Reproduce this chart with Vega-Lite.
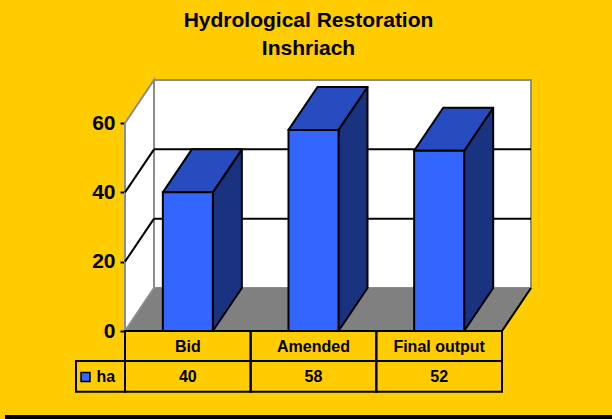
{
  "$schema": "https://vega.github.io/schema/vega-lite/v6.json",
  "width": 377,
  "height": 208,
  "autosize": "none",
  "padding": {"left": 125, "top": 123, "right": 110, "bottom": 88},
  "background": "#FFCC00",
  "config": {
    "view": {"stroke": null},
    "font": "Liberation Sans",
    "axisY": {"grid": false, "domainColor": "black", "domainWidth": 2, "tickColor": "black", "tickWidth": 2, "tickSize": 5, "labelFont": "Liberation Sans", "labelFontSize": 21, "labelFontWeight": "bold", "labelColor": "black", "labelPadding": 5, "labelFlush": false, "zindex": 1}
  },
  "title": {"text": ["Hydrological Restoration", "Inshriach"], "font": "Liberation Sans", "fontSize": 21, "fontWeight": "bold", "color": "black", "anchor": "middle", "frame": "group", "dx": -5, "offset": 17, "lineHeight": 27.6},
  "data": {"values": [
    {"category": "Bid", "ha": 40},
    {"category": "Amended", "ha": 58},
    {"category": "Final output", "ha": 52}
  ]},
  "layer": [
    {
      "transform": [{"aggregate": [{"op": "count", "as": "n"}]}],
      "mark": {"type": "rect", "fill": "white", "stroke": "#8c8c8c", "strokeWidth": 2},
      "encoding": {
        "x": {"datum": 0.2308, "type": "quantitative", "scale": {"domain": [0, 3], "nice": false, "zero": false}, "axis": null},
        "x2": {"datum": 3.2308},
        "y": {"datum": 12.4, "type": "quantitative", "scale": {"domain": [0, 60], "nice": false, "zero": false}, "axis": {"title": null, "values": [0, 20, 40, 60]}},
        "y2": {"datum": 72.4}
      }
    },
    {
      "transform": [
        {"aggregate": [{"op": "count", "as": "n"}]},
        {"calculate": "[0, 1]", "as": "depth"},
        {"flatten": ["depth"]},
        {"calculate": "datum.depth * 0.2308", "as": "fx0"},
        {"calculate": "3 + datum.depth * 0.2308", "as": "fx1"},
        {"calculate": "datum.depth * 12.4", "as": "fy"}
      ],
      "mark": {"type": "area", "orient": "horizontal", "fill": "#808080", "strokeWidth": 0},
      "encoding": {
        "y": {"field": "fy", "type": "quantitative", "scale": {"domain": [0, 60], "nice": false, "zero": false}, "axis": {"title": null, "values": [0, 20, 40, 60]}},
        "x": {"field": "fx0", "type": "quantitative", "scale": {"domain": [0, 3], "nice": false, "zero": false}, "axis": null},
        "x2": {"field": "fx1"}
      }
    },
    {
      "transform": [
        {"aggregate": [{"op": "count", "as": "n"}]},
        {"calculate": "[0, 1]", "as": "depth"},
        {"flatten": ["depth"]},
        {"calculate": "datum.depth * 0.2308", "as": "wx"},
        {"calculate": "datum.depth * 12.4", "as": "wy0"},
        {"calculate": "60 + datum.depth * 12.4", "as": "wy1"}
      ],
      "mark": {"type": "area", "orient": "vertical", "fill": "white", "stroke": "#8c8c8c", "strokeWidth": 2},
      "encoding": {
        "x": {"field": "wx", "type": "quantitative", "scale": {"domain": [0, 3], "nice": false, "zero": false}, "axis": null},
        "y": {"field": "wy0", "type": "quantitative", "scale": {"domain": [0, 60], "nice": false, "zero": false}, "axis": {"title": null, "values": [0, 20, 40, 60]}},
        "y2": {"field": "wy1"}
      }
    },
    {
      "data": {"values": [{"v": 20}, {"v": 40}]},
      "transform": [{"calculate": "datum.v + 12.4", "as": "vb"}],
      "layer": [
        {
          "mark": {"type": "rule", "stroke": "black", "strokeWidth": 2},
          "encoding": {
            "x": {"datum": 0.2308, "type": "quantitative", "scale": {"domain": [0, 3], "nice": false, "zero": false}, "axis": null},
            "x2": {"datum": 3.2308},
            "y": {"field": "vb", "type": "quantitative", "scale": {"domain": [0, 60], "nice": false, "zero": false}, "axis": {"title": null, "values": [0, 20, 40, 60]}}
          }
        },
        {
          "mark": {"type": "rule", "stroke": "black", "strokeWidth": 2},
          "encoding": {
            "x": {"datum": 0, "type": "quantitative", "scale": {"domain": [0, 3], "nice": false, "zero": false}, "axis": null},
            "x2": {"datum": 0.2308},
            "y": {"field": "v", "type": "quantitative", "scale": {"domain": [0, 60], "nice": false, "zero": false}, "axis": {"title": null, "values": [0, 20, 40, 60]}},
            "y2": {"field": "vb"}
          }
        }
      ]
    },
    {
      "transform": [{"aggregate": [{"op": "count", "as": "n"}]}],
      "mark": {"type": "rule", "stroke": "black", "strokeWidth": 2},
      "encoding": {
        "x": {"datum": 3, "type": "quantitative", "scale": {"domain": [0, 3], "nice": false, "zero": false}, "axis": null},
        "x2": {"datum": 3.2308},
        "y": {"datum": 0, "type": "quantitative", "scale": {"domain": [0, 60], "nice": false, "zero": false}, "axis": {"title": null, "values": [0, 20, 40, 60]}},
        "y2": {"datum": 12.4}
      }
    },
    {
      "transform": [
        {"window": [{"op": "row_number", "as": "rn"}]},
        {"calculate": "datum.rn - 0.5", "as": "xc"},
        {"calculate": "datum.rn - 1", "as": "cx0"},
        {"calculate": "[0, 1]", "as": "depth"},
        {"flatten": ["depth"]},
        {"calculate": "datum.xc + 0.199 + datum.depth * 0.2308", "as": "sx"},
        {"calculate": "datum.depth * 12.4", "as": "sy0"},
        {"calculate": "datum.ha + datum.depth * 12.4", "as": "sy1"},
        {"calculate": "datum.xc - 0.199 + datum.depth * 0.2308", "as": "tx0"},
        {"calculate": "datum.xc + 0.199 + datum.depth * 0.2308", "as": "tx1"}
      ],
      "layer": [
        {
          "mark": {"type": "area", "orient": "vertical", "fill": "#1A3380", "stroke": "black", "strokeWidth": 2, "strokeJoin": "round"},
          "encoding": {
            "x": {"field": "sx", "type": "quantitative", "scale": {"domain": [0, 3], "nice": false, "zero": false}, "axis": null},
            "y": {"field": "sy0", "type": "quantitative", "scale": {"domain": [0, 60], "nice": false, "zero": false}, "axis": {"title": null, "values": [0, 20, 40, 60]}},
            "y2": {"field": "sy1"},
            "detail": {"field": "category"}
          }
        },
        {
          "mark": {"type": "area", "orient": "horizontal", "fill": "#264CBF", "stroke": "black", "strokeWidth": 2, "strokeJoin": "round"},
          "encoding": {
            "y": {"field": "sy1", "type": "quantitative", "scale": {"domain": [0, 60], "nice": false, "zero": false}, "axis": {"title": null, "values": [0, 20, 40, 60]}},
            "x": {"field": "tx0", "type": "quantitative", "scale": {"domain": [0, 3], "nice": false, "zero": false}, "axis": null},
            "x2": {"field": "tx1"},
            "detail": {"field": "category"}
          }
        },
        {
          "transform": [{"filter": "datum.depth == 0"}],
          "mark": {"type": "rect", "stroke": "black", "strokeWidth": 2},
          "encoding": {
            "x": {"field": "tx0", "type": "quantitative", "scale": {"domain": [0, 3], "nice": false, "zero": false}, "axis": null},
            "x2": {"field": "tx1"},
            "y": {"field": "ha", "type": "quantitative", "scale": {"domain": [0, 60], "nice": false, "zero": false}, "axis": {"title": null, "values": [0, 20, 40, 60]}},
            "y2": {"datum": 0},
            "color": {"datum": "ha", "type": "nominal", "scale": {"range": ["#3366FF"]},
              "legend": {"orient": "none", "legendX": -47.5, "legendY": 246, "title": null, "symbolType": "square", "symbolSize": 81, "symbolStrokeColor": "black", "symbolStrokeWidth": 1.5, "labelFont": "Liberation Sans", "labelFontSize": 16, "labelFontWeight": "bold", "labelColor": "black", "labelOffset": 3}}
          }
        },
        {
          "transform": [{"filter": "datum.depth == 0"}],
          "mark": {"type": "rect", "filled": false, "stroke": "black", "strokeWidth": 2},
          "encoding": {
            "x": {"field": "cx0", "type": "quantitative", "scale": {"domain": [0, 3], "nice": false, "zero": false}, "axis": null},
            "x2": {"field": "rn"},
            "y": {"datum": 0, "type": "quantitative", "scale": {"domain": [0, 60], "nice": false, "zero": false}, "axis": {"title": null, "values": [0, 20, 40, 60]}},
            "y2": {"datum": -8.65}
          }
        },
        {
          "transform": [{"filter": "datum.depth == 0"}],
          "mark": {"type": "rect", "filled": false, "stroke": "black", "strokeWidth": 2},
          "encoding": {
            "x": {"field": "cx0", "type": "quantitative", "scale": {"domain": [0, 3], "nice": false, "zero": false}, "axis": null},
            "x2": {"field": "rn"},
            "y": {"datum": -8.65, "type": "quantitative", "scale": {"domain": [0, 60], "nice": false, "zero": false}, "axis": {"title": null, "values": [0, 20, 40, 60]}},
            "y2": {"datum": -17.55}
          }
        },
        {
          "transform": [{"filter": "datum.depth == 0"}],
          "mark": {"type": "text", "font": "Liberation Sans", "fontSize": 16, "fontWeight": "bold", "color": "black", "baseline": "middle", "align": "center"},
          "encoding": {
            "x": {"field": "xc", "type": "quantitative", "scale": {"domain": [0, 3], "nice": false, "zero": false}, "axis": null},
            "y": {"datum": -4.55, "type": "quantitative", "scale": {"domain": [0, 60], "nice": false, "zero": false}, "axis": {"title": null, "values": [0, 20, 40, 60]}},
            "text": {"field": "category"}
          }
        },
        {
          "transform": [{"filter": "datum.depth == 0"}],
          "mark": {"type": "text", "font": "Liberation Sans", "fontSize": 16, "fontWeight": "bold", "color": "black", "baseline": "middle", "align": "center"},
          "encoding": {
            "x": {"field": "xc", "type": "quantitative", "scale": {"domain": [0, 3], "nice": false, "zero": false}, "axis": null},
            "y": {"datum": -13.2, "type": "quantitative", "scale": {"domain": [0, 60], "nice": false, "zero": false}, "axis": {"title": null, "values": [0, 20, 40, 60]}},
            "text": {"field": "ha"}
          }
        }
      ]
    },
    {
      "transform": [{"aggregate": [{"op": "count", "as": "n"}]}],
      "mark": {"type": "rect", "filled": false, "stroke": "black", "strokeWidth": 2},
      "encoding": {
        "x": {"datum": -0.39, "type": "quantitative", "scale": {"domain": [0, 3], "nice": false, "zero": false}, "axis": null},
        "x2": {"datum": 0},
        "y": {"datum": -8.65, "type": "quantitative", "scale": {"domain": [0, 60], "nice": false, "zero": false}, "axis": {"title": null, "values": [0, 20, 40, 60]}},
        "y2": {"datum": -17.55}
      }
    },
    {
      "transform": [{"aggregate": [{"op": "count", "as": "n"}]}],
      "mark": {"type": "rect", "fill": "black"},
      "encoding": {
        "x": {"datum": -0.955, "type": "quantitative", "scale": {"domain": [0, 3], "nice": false, "zero": false}, "axis": null},
        "x2": {"datum": 3.95},
        "y": {"datum": -24.2, "type": "quantitative", "scale": {"domain": [0, 60], "nice": false, "zero": false}, "axis": {"title": null, "values": [0, 20, 40, 60]}},
        "y2": {"datum": -26}
      }
    }
  ]
}
